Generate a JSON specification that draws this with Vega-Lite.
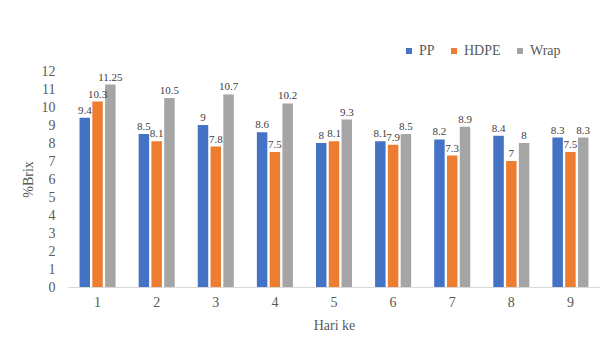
{
  "$schema": "https://vega.github.io/schema/vega-lite/v6.json",
  "width": 532,
  "height": 216,
  "autosize": "none",
  "padding": {"left": 68, "top": 71, "right": 9, "bottom": 60},
  "background": "white",
  "data": {
    "values": [
      {"hari": "1", "seri": "PP", "brix": 9.4, "lbl": "9.4"},
      {"hari": "1", "seri": "HDPE", "brix": 10.3, "lbl": "10.3"},
      {"hari": "1", "seri": "Wrap", "brix": 11.25, "lbl": "11.25"},
      {"hari": "2", "seri": "PP", "brix": 8.5, "lbl": "8.5"},
      {"hari": "2", "seri": "HDPE", "brix": 8.1, "lbl": "8.1"},
      {"hari": "2", "seri": "Wrap", "brix": 10.5, "lbl": "10.5"},
      {"hari": "3", "seri": "PP", "brix": 9, "lbl": "9"},
      {"hari": "3", "seri": "HDPE", "brix": 7.8, "lbl": "7.8"},
      {"hari": "3", "seri": "Wrap", "brix": 10.7, "lbl": "10.7"},
      {"hari": "4", "seri": "PP", "brix": 8.6, "lbl": "8.6"},
      {"hari": "4", "seri": "HDPE", "brix": 7.5, "lbl": "7.5"},
      {"hari": "4", "seri": "Wrap", "brix": 10.2, "lbl": "10.2"},
      {"hari": "5", "seri": "PP", "brix": 8, "lbl": "8"},
      {"hari": "5", "seri": "HDPE", "brix": 8.1, "lbl": "8.1"},
      {"hari": "5", "seri": "Wrap", "brix": 9.3, "lbl": "9.3"},
      {"hari": "6", "seri": "PP", "brix": 8.1, "lbl": "8.1"},
      {"hari": "6", "seri": "HDPE", "brix": 7.9, "lbl": "7.9"},
      {"hari": "6", "seri": "Wrap", "brix": 8.5, "lbl": "8.5"},
      {"hari": "7", "seri": "PP", "brix": 8.2, "lbl": "8.2"},
      {"hari": "7", "seri": "HDPE", "brix": 7.3, "lbl": "7.3"},
      {"hari": "7", "seri": "Wrap", "brix": 8.9, "lbl": "8.9"},
      {"hari": "8", "seri": "PP", "brix": 8.4, "lbl": "8.4"},
      {"hari": "8", "seri": "HDPE", "brix": 7, "lbl": "7"},
      {"hari": "8", "seri": "Wrap", "brix": 8, "lbl": "8"},
      {"hari": "9", "seri": "PP", "brix": 8.3, "lbl": "8.3"},
      {"hari": "9", "seri": "HDPE", "brix": 7.5, "lbl": "7.5"},
      {"hari": "9", "seri": "Wrap", "brix": 8.3, "lbl": "8.3"}
    ]
  },
  "encoding": {
    "x": {
      "field": "hari", "type": "nominal", "sort": null,
      "scale": {"paddingInner": 0.39, "paddingOuter": 0.195},
      "axis": {
        "title": "Hari ke", "labelAngle": 0, "ticks": false,
        "domainColor": "#D9D9D9", "labelPadding": 8, "titlePadding": 9
      }
    },
    "xOffset": {
      "field": "seri", "type": "nominal",
      "scale": {"domain": ["PP", "HDPE", "Wrap"], "paddingInner": 0.18, "paddingOuter": 0}
    },
    "y": {
      "field": "brix", "type": "quantitative",
      "scale": {"domain": [0, 12], "nice": false},
      "axis": {
        "title": "%Brix", "values": [0,1,2,3,4,5,6,7,8,9,10,11,12],
        "domain": false, "ticks": false, "grid": false,
        "labelPadding": 13, "titlePadding": 6
      }
    }
  },
  "layer": [
    {
      "mark": {"type": "bar"},
      "encoding": {
        "color": {
          "field": "seri", "type": "nominal",
          "scale": {"domain": ["PP", "HDPE", "Wrap"], "range": ["#4472C4", "#ED7D31", "#A5A5A5"]},
          "legend": {
            "title": null, "orient": "none", "direction": "horizontal",
            "legendX": 334, "legendY": -27, "symbolType": "square", "symbolSize": 36,
            "symbolStrokeWidth": 0, "labelFontSize": 14, "labelFont": "Liberation Serif",
            "labelColor": "#595959", "columnPadding": 12, "labelOffset": 3
          }
        }
      }
    },
    {
      "mark": {"type": "text", "baseline": "bottom", "dy": -2, "font": "Liberation Serif", "fontSize": 11, "color": "#404040"},
      "encoding": {"text": {"field": "lbl"}}
    }
  ],
  "config": {
    "view": {"stroke": null},
    "axis": {
      "labelFont": "Liberation Serif", "labelFontSize": 14, "labelColor": "#595959",
      "titleFont": "Liberation Serif", "titleFontSize": 14, "titleColor": "#595959",
      "titleFontWeight": "normal"
    }
  }
}
